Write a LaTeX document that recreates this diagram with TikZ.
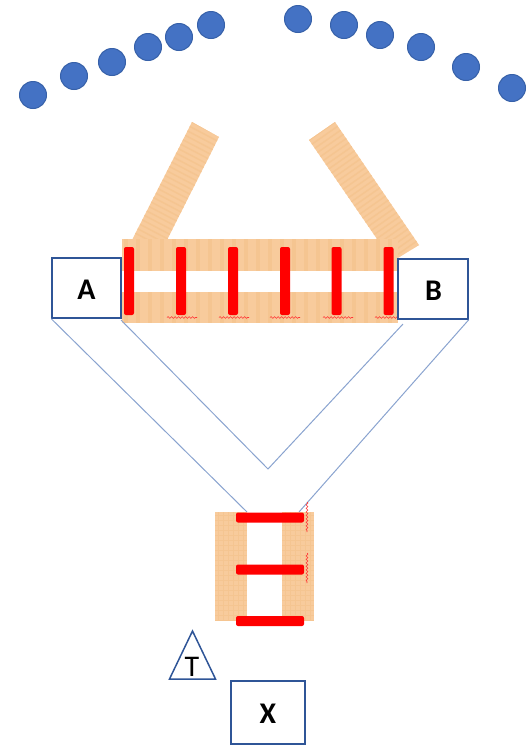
\documentclass[tikz,border=0pt]{standalone}
\usepackage{fontspec}
\setmainfont{Carlito}
\usetikzlibrary{decorations.pathmorphing,calc}
\definecolor{dotfill}{HTML}{4472C4}
\definecolor{dotline}{HTML}{2F5597}
\definecolor{wood}{HTML}{F8CB9C}
\definecolor{woodd}{HTML}{F5C591}
\definecolor{thin}{HTML}{8AA3CF}
\tikzset{
  dotnode/.style={circle,fill=dotfill,draw=dotline!60!dotfill,line width=1pt,minimum size=27pt,inner sep=0pt},
  boxnode/.style={rectangle,draw=dotline,line width=1.5pt,fill=white,inner sep=0pt},
  boxtext/.style={inner sep=0pt,font=\fontsize{30}{30}\selectfont\bfseries},
  wirepath/.style={draw=thin,line width=1pt},
  redbar/.style={fill=red,rounded corners=2pt},
  squig/.style={draw=red!80!white,line width=.6pt,decorate,decoration={snake,amplitude=.9pt,segment length=3.5pt}},
}
\begin{document}
\begin{tikzpicture}[x=1pt,y=-1pt]
\useasboundingbox (0,0) rectangle (528,745);
% dots
\foreach \n/\px/\py in {1/33/95,2/74/76,3/112/62,4/148/47,5/179/37,6/211/25,7/298/19,8/344/25,9/380/35,10/421/47,11/466/67,12/512/88}
  \node[dotnode] (d\n) at (\px,\py) {};
% angled strips
\begin{scope}
  \fill[wood] (192,122) -- (219,137) -- (167,240) -- (132,240) -- cycle;
  \clip (192,122) -- (219,137) -- (167,240) -- (132,240) -- cycle;
  \foreach \t in {0,5,...,125}
    \draw[woodd,line width=1.5pt] ($(192,122)+(-.49*\t,.87*\t)$) -- ++(40,21);
\end{scope}
\begin{scope}
  \fill[wood] (335,122) -- (309,140) -- (377,239) -- (398,258) -- (419,245) -- cycle;
  \clip (335,122) -- (309,140) -- (377,239) -- (398,258) -- (419,245) -- cycle;
  \foreach \t in {0,5,...,160}
    \draw[woodd,line width=1.5pt] ($(335,122)+(.58*\t,.81*\t)$) -- ++(-40,28);
\end{scope}
% horizontal bands
\fill[wood] (122,239) rectangle (398,271);
\fill[wood] (122,292) rectangle (398,323);
\foreach \s in {126,138,...,396}{
  \draw[woodd,line width=4pt] (\s,239) -- (\s,271);
  \draw[woodd,line width=4pt] (\s,292) -- (\s,323);
}
% vertical red bars
\foreach \n/\px in {1/129,2/181,3/233,4/285,5/336.5,6/388.5}
  \fill[redbar] (\px-5,247) rectangle (\px+5,315);
% squiggles
\foreach \a in {167,219,270,323,375}
  \draw[squig] (\a,317.5) -- (\a+30,317.5);
% boxes
\node[boxnode,minimum width=69pt,minimum height=60pt] (A) at (86.5,288) {};
\node[boxtext] (Alabel) at (86.5,289.5) {A};
\node[boxnode,minimum width=70pt,minimum height=60pt] (B) at (433,289) {};
\node[boxtext] (Blabel) at (433.5,290.5) {B};
% wires
\coordinate (apex) at (268,469);
\coordinate (ain) at (121,320);
\coordinate (bin) at (403,324);
\coordinate (pl) at (247,512);
\coordinate (pr) at (299,512);
\draw[wirepath] (A.south west) -- (pl);
\draw[wirepath] (ain) -- (apex) -- (bin);
\draw[wirepath] (B.south east) -- (pr);
% lower patch
\fill[wood] (215,512) rectangle (247,621);
\fill[wood] (282,512) rectangle (314,621);
\foreach \s in {515,520,...,620}{
  \draw[woodd,line width=1pt] (215,\s) -- (247,\s);
  \draw[woodd,line width=1pt] (282,\s) -- (314,\s);
}
\foreach \s in {218,223,...,245}
  \draw[woodd,line width=1pt] (\s,512) -- (\s,621);
\foreach \s in {285,290,...,312}
  \draw[woodd,line width=1pt] (\s,512) -- (\s,621);
% horizontal red bars
\foreach \py in {517.5,569.5,621}
  \fill[redbar] (236,\py-5) rectangle (304,\py+5);
\draw[squig] (307,502) -- (307,532);
\draw[squig] (307,553) -- (307,583);
% triangle and X
\coordinate (t1) at (192.5,631);
\coordinate (t2) at (169.5,679);
\coordinate (t3) at (215.5,679);
\draw[dotline,line width=1.5pt,line join=miter] (t1) -- (t2) -- (t3) -- cycle;
\node[inner sep=0pt,font=\fontsize{30}{30}\selectfont] (T) at (192,667) {T};
\node[boxnode,minimum width=74pt,minimum height=63pt] (X) at (268,712.5) {};
\node[boxtext] (Xlabel) at (268,714) {X};
\end{tikzpicture}
\end{document}
